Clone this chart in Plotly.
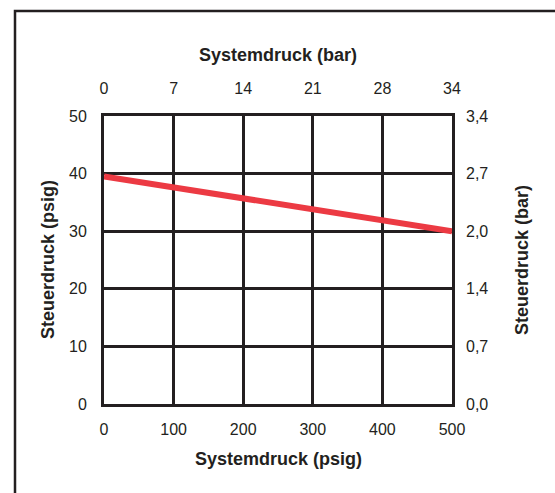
import plotly.graph_objects as go

# Data
system_psig = [0, 500]
steuer_psig = [39.5, 30]

x_ticks = [0, 100, 200, 300, 400, 500]
x_top_labels = ["0", "7", "14", "21", "28", "34"]
y_ticks = [0, 10, 20, 30, 40, 50]
y_right_labels = ["0,0", "0,7", "1,4", "2,0", "2,7", "3,4"]

W, H = 555, 493
ML, MR, MT, MB = 104, 103, 116, 89
pw = W - ML - MR
ph = H - MT - MB

def px_x(px):
    return (px - ML) / pw

def px_y(py):
    return (H - MB - py) / ph

ink = "#231f20"
font = "Liberation Sans, Arial, Helvetica, sans-serif"
TICK = 16
TITLE = 18

fig = go.Figure()
fig.add_trace(go.Scatter(x=system_psig, y=steuer_psig, mode="lines",
                         line=dict(color="#ec3a43", width=6),
                         showlegend=False, hoverinfo="skip"))
fig.add_trace(go.Scatter(x=system_psig, y=steuer_psig, mode="lines",
                         line=dict(color="rgba(0,0,0,0)", width=0),
                         xaxis="x2", yaxis="y2",
                         showlegend=False, hoverinfo="skip"))

axis_common = dict(
    showgrid=True, gridcolor=ink, gridwidth=3,
    zeroline=False, showline=True, linecolor=ink, linewidth=3,
    ticks="", tickfont=dict(size=TICK, color=ink, family=font),
    fixedrange=True,
)

fig.update_layout(
    width=W, height=H,
    margin=dict(l=ML, r=MR, t=MT, b=MB, pad=0),
    paper_bgcolor="white", plot_bgcolor="white",
    font=dict(family=font, color=ink),
    xaxis=dict(range=[0, 500], tickvals=x_ticks, ticktext=[str(v) for v in x_ticks],
               mirror=True, ticklabelstandoff=9, **axis_common),
    yaxis=dict(range=[0, 50], tickvals=y_ticks, ticktext=[str(v) for v in y_ticks],
               mirror=True, ticklabelstandoff=11, **axis_common),
    xaxis2=dict(range=[0, 500], tickvals=x_ticks, ticktext=x_top_labels,
                overlaying="x", side="top", showgrid=False, showline=False,
                zeroline=False, ticks="", ticklabelstandoff=18,
                tickfont=dict(size=TICK, color=ink, family=font), fixedrange=True),
    yaxis2=dict(range=[0, 50], tickvals=y_ticks, ticktext=y_right_labels,
                overlaying="y", side="right", showgrid=False, showline=False,
                zeroline=False, ticks="", ticklabelstandoff=13,
                tickfont=dict(size=TICK, color=ink, family=font), fixedrange=True),
    shapes=[dict(type="rect", xref="paper", yref="paper",
                 x0=px_x(15), x1=px_x(600), y0=px_y(560), y1=px_y(11),
                 line=dict(color=ink, width=2.5), fillcolor="rgba(0,0,0,0)",
                 layer="below")],
    annotations=[
        dict(text="<b>Systemdruck (bar)</b>", xref="paper", yref="paper",
             x=0.5, y=px_y(55), showarrow=False, xanchor="center", yanchor="middle",
             font=dict(size=TITLE, color=ink, family=font)),
        dict(text="<b>Systemdruck (psig)</b>", xref="paper", yref="paper",
             x=0.5, y=px_y(459), showarrow=False, xanchor="center", yanchor="middle",
             font=dict(size=TITLE, color=ink, family=font)),
        dict(text="<b>Steuerdruck (psig)</b>", xref="paper", yref="paper",
             x=px_x(48), y=0.5, showarrow=False, xanchor="center", yanchor="middle",
             textangle=-90, font=dict(size=TITLE, color=ink, family=font)),
        dict(text="<b>Steuerdruck (bar)</b>", xref="paper", yref="paper",
             x=px_x(522), y=0.5, showarrow=False, xanchor="center", yanchor="middle",
             textangle=-90, font=dict(size=TITLE, color=ink, family=font)),
    ],
)

fig.write_html("out.html", config={"displayModeBar": False},
               post_script="document.body.style.margin='0';")
